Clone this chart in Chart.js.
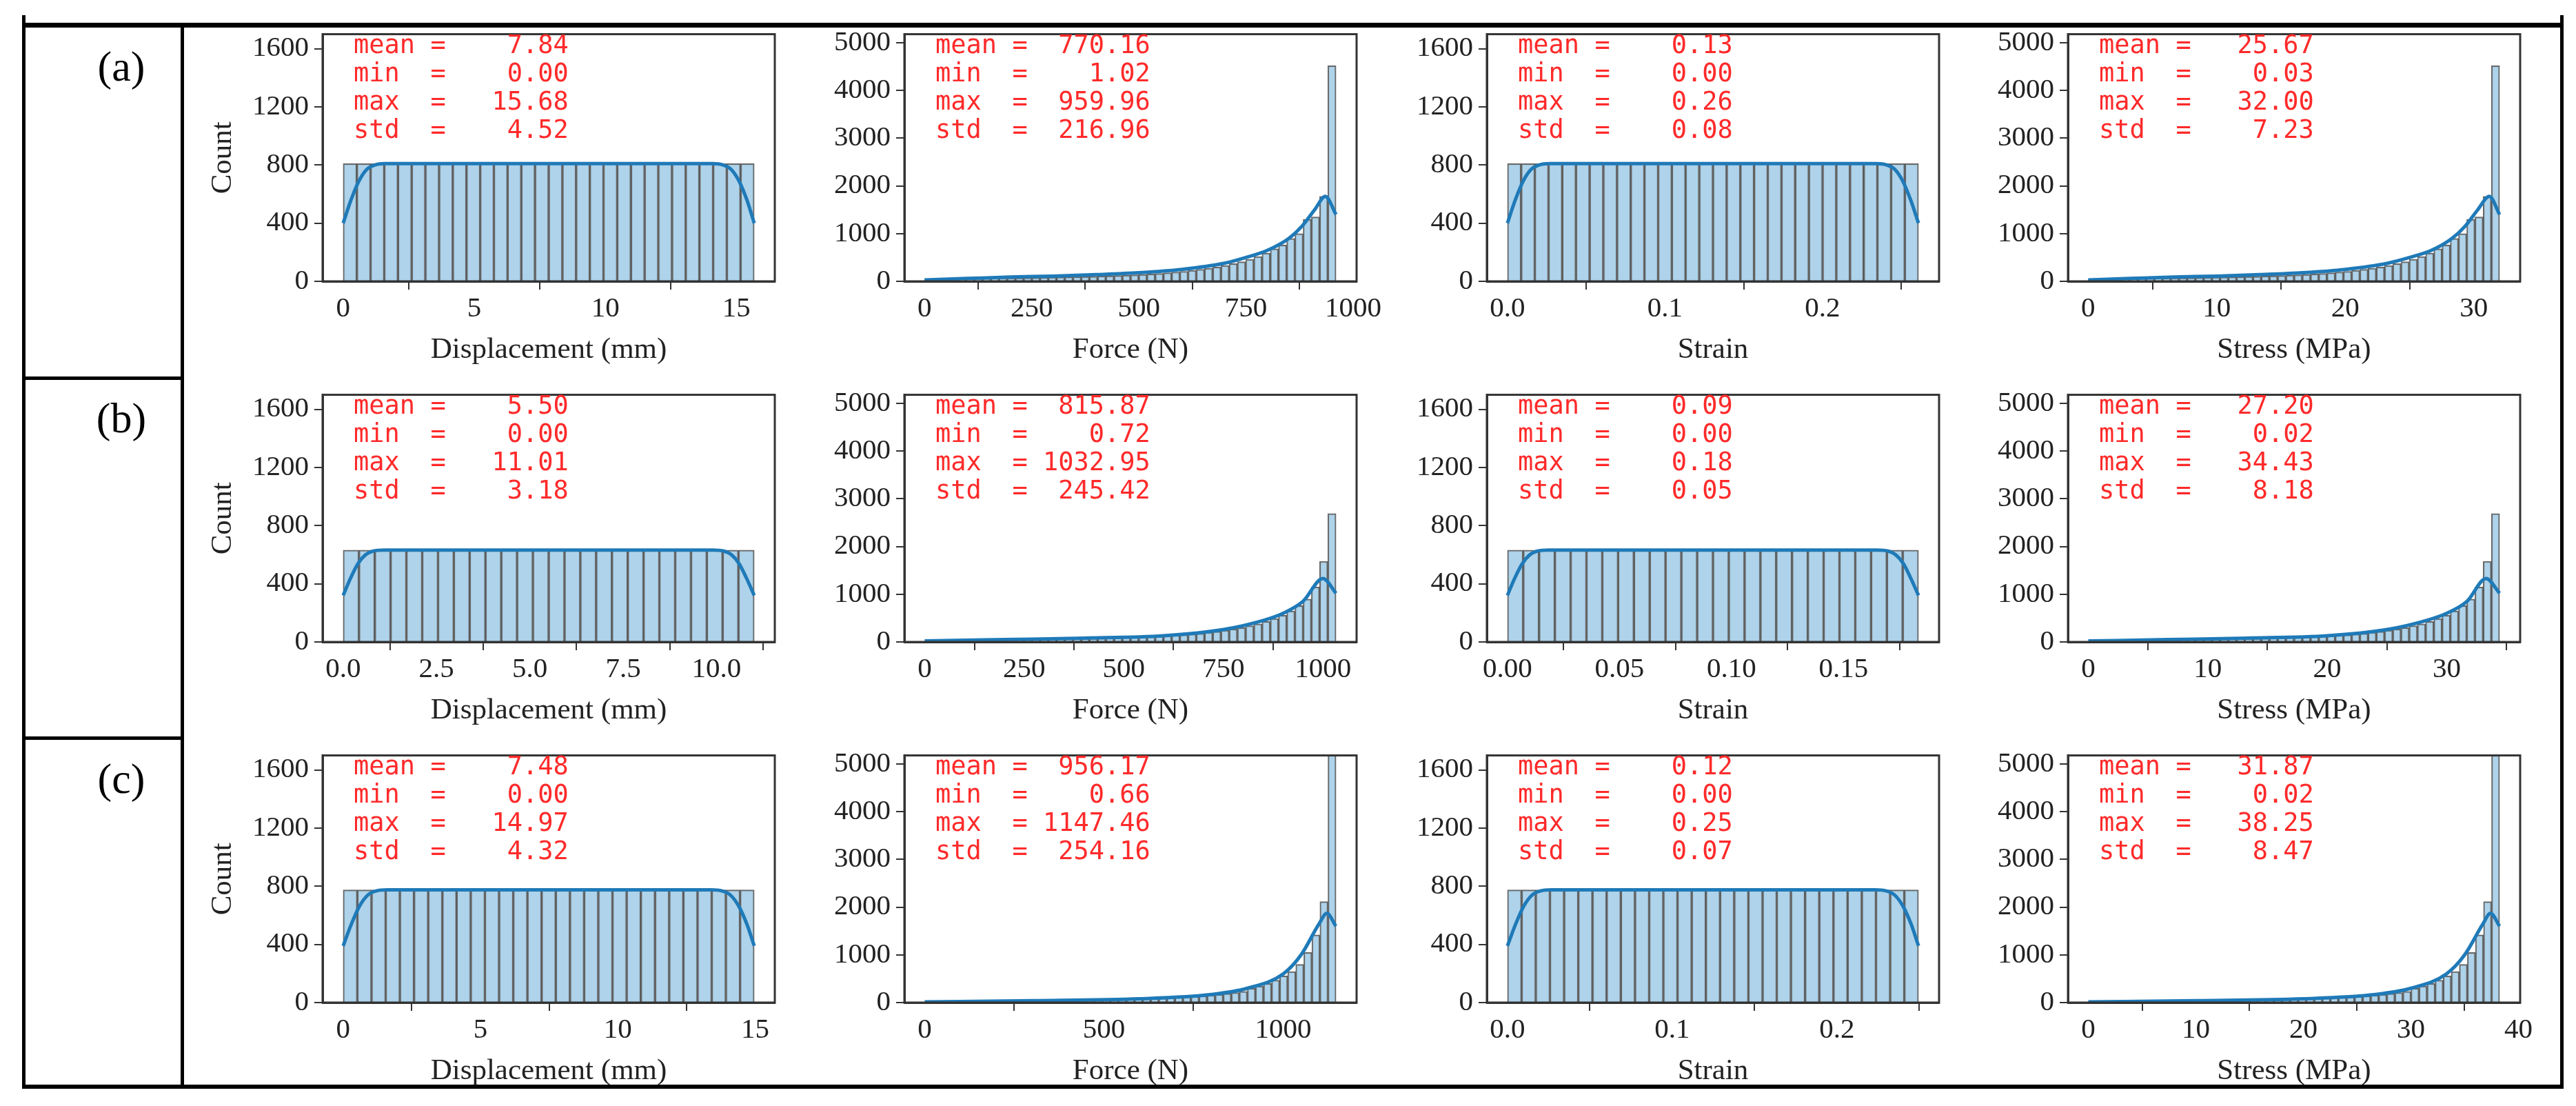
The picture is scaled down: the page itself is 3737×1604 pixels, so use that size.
<!DOCTYPE html>
<html><head><meta charset="utf-8">
<script src="https://cdn.jsdelivr.net/npm/chart.js@4.4.1/dist/chart.umd.min.js"></script>
<style>
body{margin:0;background:#fff;width:3737px;height:1604px;position:relative;overflow:hidden;font-family:"Liberation Serif",serif}
.ln{position:absolute;background:#000}
canvas{position:absolute}
.stat{position:absolute;font-family:"DejaVu Sans Mono",monospace;font-size:37px;line-height:41px;color:#ff2a2a;white-space:pre;margin:0}
.lab{position:absolute;font-family:"Liberation Serif",serif;font-size:62px;color:#000;transform:translate(-50%,-50%)}
</style></head><body>
<div class="ln" style="left:34px;top:33px;width:3685px;height:7px"></div>
<div class="ln" style="left:34px;top:1573px;width:3685px;height:6px"></div>
<div class="ln" style="left:32px;top:22px;width:5px;height:1557px"></div>
<div class="ln" style="left:3714px;top:22px;width:5px;height:1557px"></div>
<div class="ln" style="left:262px;top:36px;width:5px;height:1540px"></div>
<div class="ln" style="left:34px;top:546px;width:230px;height:5px"></div>
<div class="ln" style="left:34px;top:1068px;width:230px;height:5px"></div>
<script>
// ---------- DATA ----------
const rowLabels = ['(a)', '(b)', '(c)'];
const xTitles = ['Displacement (mm)', 'Force (N)', 'Strain', 'Stress (MPa)'];

// stats [mean,min,max,std] per row per column
const statsA = [[7.84,0.00,15.68,4.52],[770.16,1.02,959.96,216.96],[0.13,0.00,0.26,0.08],[25.67,0.03,32.00,7.23]];
const statsB = [[5.50,0.00,11.01,3.18],[815.87,0.72,1032.95,245.42],[0.09,0.00,0.18,0.05],[27.20,0.02,34.43,8.18]];
const statsC = [[7.48,0.00,14.97,4.32],[956.17,0.66,1147.46,254.16],[0.12,0.00,0.25,0.07],[31.87,0.02,38.25,8.47]];

// data extents (for bins / axis margins)
const rangeA = [[0,15.68],[1.02,959.96],[0,0.261],[0.03,32.00]];
const rangeB = [[0,11.01],[0.72,1032.95],[0,0.1835],[0.02,34.43]];
const rangeC = [[0,14.97],[0.66,1147.46],[0,0.2495],[0.02,38.25]];

// x tick labels
const xTicksA = [[0,5,10,15],[0,250,500,750,1000],[0.0,0.1,0.2],[0,10,20,30]];
const xTicksB = [[0.0,2.5,5.0,7.5,10.0],[0,250,500,750,1000],[0.00,0.05,0.10,0.15],[0,10,20,30]];
const xTicksC = [[0,5,10,15],[0,500,1000],[0.0,0.1,0.2],[0,10,20,30,40]];
const xDecA = [0,0,1,0], xDecB = [1,0,2,0], xDecC = [0,0,1,0];
const countTicks = [0,400,800,1200,1600];
const forceTicks = [0,1000,2000,3000,4000,5000];

// histogram counts
const dispCountsA = [810,810,810,810,810,810,810,810,810,810,810,810,810,810,810,810,810,810,810,810,810,810,810,810,810,810,810,810,810,810];
const dispCountsB = [632,632,632,632,632,632,632,632,632,632,632,632,632,632,632,632,632,632,632,632,632,632,632,632,632,632];
const dispCountsC = [775,775,775,775,775,775,775,775,775,775,775,775,775,775,775,775,775,775,775,775,775,775,775,775,775,775,775,775,775];
const forceCountsA = [30,35,40,45,50,55,60,62,65,68,70,72,75,78,82,85,88,92,96,100,105,110,115,120,128,135,145,155,165,180,195,210,230,250,275,300,330,370,410,460,520,590,680,760,900,1000,1300,1350,1780,4520];
const forceCountsB = [20,25,28,30,32,35,38,40,42,45,48,50,52,55,58,60,62,65,68,72,75,80,85,90,95,100,105,112,120,130,140,150,165,180,200,220,245,270,300,340,380,430,490,560,650,760,900,1150,1690,2690];
const forceCountsC = [15,18,20,22,24,26,28,30,32,34,36,38,40,42,45,48,50,52,55,58,60,63,66,70,74,78,82,87,92,98,105,112,120,130,140,155,170,190,210,235,300,345,400,470,560,650,800,1050,1420,2115,6500];
// the picture shows the same histogram shapes for strain/displacement and stress/force
const strainCountsA = dispCountsA, strainCountsB = dispCountsB, strainCountsC = dispCountsC;
const stressCountsA = forceCountsA, stressCountsB = forceCountsB, stressCountsC = forceCountsC;

// KDE curves
const dispKdeXA = [0,0.3,0.6,0.9,1.2,1.6,14.1,14.5,14.8,15.1,15.4,15.68];
const dispKdeYA = [400,560,690,770,800,810,810,800,770,690,560,400];
const dispKdeXB = [0,0.2,0.4,0.6,0.8,1.1,9.9,10.2,10.4,10.6,10.8,11.01];
const dispKdeYB = [320,440,540,600,625,632,632,625,600,540,440,320];
const dispKdeXC = [0,0.3,0.6,0.9,1.2,1.6,13.4,13.8,14.1,14.4,14.7,14.97];
const dispKdeYC = [390,540,665,740,768,775,775,768,740,665,540,390];
const strainKdeXA = [0,0.005,0.01,0.015,0.02,0.027,0.234,0.241,0.246,0.251,0.256,0.261];
const strainKdeXB = [0,0.0033,0.0067,0.01,0.0133,0.0183,0.165,0.17,0.1733,0.1767,0.18,0.1835];
const strainKdeXC = [0,0.005,0.01,0.015,0.02,0.0267,0.2233,0.23,0.235,0.24,0.245,0.2495];
const forceKdeXA = [0,100,200,300,400,500,600,700,750,800,850,880,910,935,960];
const forceKdeYA = [30,60,90,110,140,180,250,380,500,650,900,1150,1500,1780,1400];
const forceKdeXB = [0,200,400,600,750,850,900,950,1000,1033];
const forceKdeYB = [20,50,80,130,260,450,600,850,1330,1020];
const forceKdeXC = [0,300,600,800,900,1000,1050,1100,1122,1147];
const forceKdeYC = [15,40,80,170,300,600,1000,1650,1870,1600];
const stressKdeXA = [0,3.3,6.7,10,13.3,16.7,20,23.3,25,26.7,28.3,29.3,30.3,31.2,32];
const stressKdeXB = [0,6.7,13.3,20,25,28.3,30,31.7,33.3,34.43];
const stressKdeXC = [0,10,20,26.7,30,33.3,35,36.7,37.4,38.25];

// ---------- LAYOUT ----------
const colLeft = [468,1312,2157,3000], plotW = 656;
const rowTop = [42,565,1088], plotH = 366;
const LPAD = 170, TPAD = 24, RPAD = 50, BPAD = 124;

const rows = [
 {stats:statsA, range:rangeA, ticks:xTicksA, dec:xDecA, counts:[dispCountsA,forceCountsA,strainCountsA,stressCountsA],
  kx:[dispKdeXA,forceKdeXA,strainKdeXA,stressKdeXA], ky:[dispKdeYA,forceKdeYA,dispKdeYA,forceKdeYA]},
 {stats:statsB, range:rangeB, ticks:xTicksB, dec:xDecB, counts:[dispCountsB,forceCountsB,strainCountsB,stressCountsB],
  kx:[dispKdeXB,forceKdeXB,strainKdeXB,stressKdeXB], ky:[dispKdeYB,forceKdeYB,dispKdeYB,forceKdeYB]},
 {stats:statsC, range:rangeC, ticks:xTicksC, dec:xDecC, counts:[dispCountsC,forceCountsC,strainCountsC,stressCountsC],
  kx:[dispKdeXC,forceKdeXC,strainKdeXC,stressKdeXC], ky:[dispKdeYC,forceKdeYC,dispKdeYC,forceKdeYC]}
];

const boxPlugin = {id:'box', afterDraw(c){const a=c.chartArea,x=c.ctx;x.save();x.strokeStyle='#333';x.lineWidth=3;x.strokeRect(a.left,a.top,a.right-a.left,a.bottom-a.top);x.restore();}};
const tickFont = {family:'Liberation Serif', size:41, lineHeight:1.15};

rows.forEach((R, r) => {
  const lab = document.createElement('div'); lab.className='lab'; lab.textContent=rowLabels[r];
  lab.style.left='176px'; lab.style.top=(rowTop[r]+[54,41,41][r])+'px'; document.body.appendChild(lab);
  for (let c=0;c<4;c++){
    const [mn,mx] = R.range[c]; const span = mx-mn;
    const counts = R.counts[c]; const w = span/counts.length;
    const bars = counts.map((v,i)=>({x:mn+(i+0.5)*w, y:v}));
    const kde = R.kx[c].map((x,i)=>({x, y:R.ky[c][i]}));
    const isCount = (c===0||c===2);
    const cv = document.createElement('canvas');
    cv.width = plotW+LPAD+RPAD; cv.height = plotH+TPAD+BPAD;
    cv.style.left=(colLeft[c]-LPAD)+'px'; cv.style.top=(rowTop[r]-TPAD)+'px';
    document.body.appendChild(cv);
    const xt = R.ticks[c], dec = R.dec[c];
    const yt = isCount?countTicks:forceTicks;
    new Chart(cv, {
      type:'bar',
      data:{datasets:[
        {type:'line', data:kde, borderColor:'#1f7ab8', borderWidth:5, pointRadius:0, tension:0.4, cubicInterpolationMode:'monotone', order:0},
        {type:'bar', data:bars, backgroundColor:'rgba(165,206,232,0.9)', borderColor:'rgba(40,40,40,0.7)', borderWidth:2, barPercentage:1, categoryPercentage:1, order:1}
      ]},
      options:{
        responsive:false, animation:false, devicePixelRatio:1,
        layout:{padding:{left:0,top:TPAD,right:RPAD,bottom:0}},
        plugins:{legend:{display:false}, tooltip:{enabled:false}},
        scales:{
          x:{type:'linear', min:mn-0.05*span, max:mx+0.05*span, offset:false,
             afterFit:s=>{s.height=BPAD;},
             afterBuildTicks:s=>{s.ticks=xt.map(v=>({value:v}));},
             ticks:{font:tickFont, color:'#222', padding:5, autoSkip:false, maxRotation:0, callback:v=>Number(v).toFixed(dec)},
             grid:{drawOnChartArea:false, drawTicks:true, tickLength:12, color:'#333', lineWidth:2},
             border:{display:true, color:'#333', width:3},
             title:{display:true, text:xTitles[c], font:{family:'Liberation Serif', size:43, lineHeight:1.15}, color:'#222', padding:{top:0,bottom:0}}},
          y:{type:'linear', min:0, max:isCount?1700:5180,
             afterFit:s=>{s.width=LPAD;},
             afterBuildTicks:s=>{s.ticks=yt.map(v=>({value:v}));},
             ticks:{font:tickFont, color:'#222', padding:8, callback:v=>String(v)},
             grid:{drawOnChartArea:false, drawTicks:true, tickLength:12, color:'#333', lineWidth:2},
             border:{display:true, color:'#333', width:3},
             title:{display:c===0, text:'Count', font:{family:'Liberation Serif', size:43}, color:'#222', padding:{top:0,bottom:0}}}
        }
      },
      plugins:[boxPlugin]
    });
    const st = document.createElement('pre'); st.className='stat';
    const names=['mean','min','max','std'];
    st.textContent = R.stats[c].map((v,i)=>names[i].padEnd(4)+' = '+v.toFixed(2).padStart(7)).join('\n');
    st.style.left=(colLeft[c]+45)+'px'; st.style.top=(rowTop[r]+2)+'px';
    document.body.appendChild(st);
  }
});
</script>
</body></html>
